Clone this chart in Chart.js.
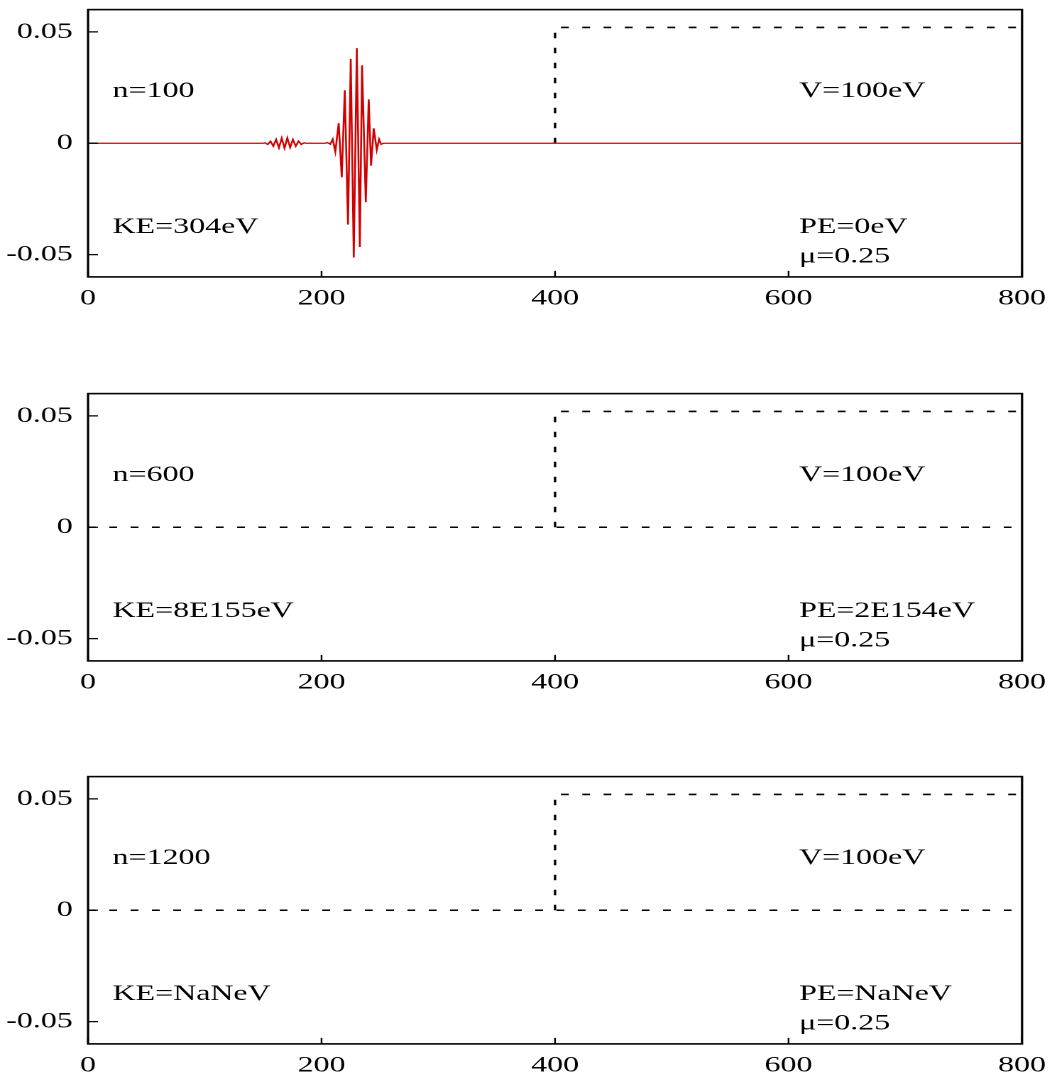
<!DOCTYPE html>
<html><head><meta charset="utf-8">
<script src="https://cdn.jsdelivr.net/npm/chart.js@4.4.0/dist/chart.umd.min.js"></script>
<style>
html,body{margin:0;padding:0;background:#fff;width:1052px;height:1076px;overflow:hidden;}
.panel{position:absolute;left:0;width:741px;height:310px;transform-origin:0 0;transform:scaleX(1.4197);}
</style></head><body>
<div class="panel" style="top:0px"><canvas id="c0" width="741" height="310"></canvas></div>
<div class="panel" style="top:383.7px"><canvas id="c1" width="741" height="310"></canvas></div>
<div class="panel" style="top:767.4px"><canvas id="c2" width="741" height="310"></canvas></div>
<script>
// ---- data ----
const xTickValues = [0, 200, 400, 600, 800];
const xTickLabels = ['0', '200', '400', '600', '800'];
const yTickValues = [-0.05, 0, 0.05];
const yTickLabels = ['-0.05', '0', '0.05'];

// wave function (panel n=100)
const waveX = [0, 150, 151.5, 153.9, 156.3, 158.7, 161.1, 163.5, 165.9, 168.3, 170.7, 173.1, 175.5, 177.9, 180.3, 182.7, 185.1, 187,
  203, 205, 207.5, 209.6, 211.8, 214.7, 217.3, 219.9, 222.7, 225.0, 227.6, 230.2, 232.8, 234.7, 237.9, 240.4, 242.4, 244.7, 247.3, 249.3, 251.0, 253, 800];
const waveY = [0, 0, 0.0002, -0.0005, 0.0009, -0.0013, 0.0017, -0.0020, 0.0023, -0.0022, 0.0024, -0.0019, 0.0017, -0.0013, 0.0009, -0.0005, 0.0002, 0,
  0, 0.0003, -0.0004, 0.0018, -0.0038, 0.0090, -0.0153, 0.0238, -0.0365, 0.0379, -0.0513, 0.0427, -0.0466, 0.0350, -0.0265, 0.0197, -0.0101, 0.0067, -0.0030, 0.0018, -0.0005, 0, 0];

// potential step
const stepX = [400, 400, 800];
const stepY = [0, 0.052, 0.052];
// dashed zero line (panels n=600, n=1200)
const zeroX = [0, 800];
const zeroY = [0, 0];

const nLabels = ['n=100', 'n=600', 'n=1200'];
const keLabels = ['KE=304eV', 'KE=8E155eV', 'KE=NaNeV'];
const peLabels = ['PE=0eV', 'PE=2E154eV', 'PE=NaNeV'];
const vLabels = ['V=100eV', 'V=100eV', 'V=100eV'];
const muLabels = ['\u03bc=0.25', '\u03bc=0.25', '\u03bc=0.25'];

const FONT = '"Liberation Serif", "Times New Roman", serif';
const pts = (xs, ys) => xs.map((x, k) => ({x: x, y: ys[k]}));

function framePlugin(i) {
  return {
    id: 'frame' + i,
    afterDraw(chart) {
      const ctx = chart.ctx, a = chart.chartArea;
      const xs = chart.scales.x, ys = chart.scales.y;
      ctx.save();
      ctx.strokeStyle = '#000';
      ctx.lineWidth = 1.6;
      ctx.strokeRect(a.left, a.top, a.right - a.left, a.bottom - a.top);
      ctx.lineWidth = 1.2;
      ctx.beginPath();
      xTickValues.forEach(v => {
        const px = xs.getPixelForValue(v);
        ctx.moveTo(px, a.bottom); ctx.lineTo(px, a.bottom - 6);
      });
      yTickValues.forEach(v => {
        const py = ys.getPixelForValue(v);
        ctx.moveTo(a.left, py); ctx.lineTo(a.left + 7, py);
      });
      ctx.stroke();
      ctx.fillStyle = '#000';
      ctx.font = '22.5px ' + FONT;
      ctx.textAlign = 'left';
      ctx.textBaseline = 'alphabetic';
      const L = xs.getPixelForValue(21), R = xs.getPixelForValue(609);
      ctx.fillText(nLabels[i], L, ys.getPixelForValue(0.0208));
      ctx.fillText(vLabels[i], R, ys.getPixelForValue(0.0208));
      ctx.fillText(keLabels[i], L, ys.getPixelForValue(-0.0403));
      ctx.fillText(peLabels[i], R, ys.getPixelForValue(-0.0403));
      ctx.fillText(muLabels[i], R, ys.getPixelForValue(-0.0536));
      ctx.restore();
    }
  };
}

function makeChart(i) {
  const datasets = [];
  if (i === 0) {
    datasets.push({data: pts(waveX, waveY), borderColor: '#d00000', borderWidth: 1.3, pointRadius: 0, tension: 0, fill: false});
  } else {
    datasets.push({data: pts(zeroX, zeroY), borderColor: '#000', borderWidth: 1.5, borderDash: [5.5, 9.5], pointRadius: 0, tension: 0, fill: false});
  }
  datasets.push({data: pts(stepX, stepY), borderColor: '#000', borderWidth: 1.7, borderDash: [5.5, 9.5], pointRadius: 0, tension: 0, fill: false});

  new Chart(document.getElementById('c' + i), {
    type: 'line',
    data: {datasets: datasets},
    options: {
      responsive: false,
      devicePixelRatio: 2,
      animation: false,
      events: [],
      layout: {padding: {left: 0, right: 21.1, top: 9.6, bottom: 0}},
      plugins: {legend: {display: false}, tooltip: {enabled: false}},
      scales: {
        x: {
          type: 'linear', min: 0, max: 800,
          afterBuildTicks: s => { s.ticks = xTickValues.map(v => ({value: v})); },
          afterFit: s => { s.height = 33.1; s.paddingLeft = 0; s.paddingRight = 0; },
          grid: {display: false, drawTicks: false},
          border: {display: false},
          ticks: {padding: 8, color: '#000', font: {family: FONT, size: 22.5}, maxRotation: 0, autoSkip: false,
            callback: (v, idx) => xTickLabels[idx]}
        },
        y: {
          type: 'linear', min: -0.06, max: 0.06,
          afterBuildTicks: s => { s.ticks = yTickValues.map(v => ({value: v})); },
          afterFit: s => { s.width = 62.0; s.paddingTop = 0; s.paddingBottom = 0; },
          grid: {display: false, drawTicks: false},
          border: {display: false},
          ticks: {padding: 10.8, color: '#000', font: {family: FONT, size: 22.5},
            callback: (v, idx) => yTickLabels[idx]}
        }
      }
    },
    plugins: [framePlugin(i)]
  });
}
[0, 1, 2].forEach(makeChart);
</script>
</body></html>
